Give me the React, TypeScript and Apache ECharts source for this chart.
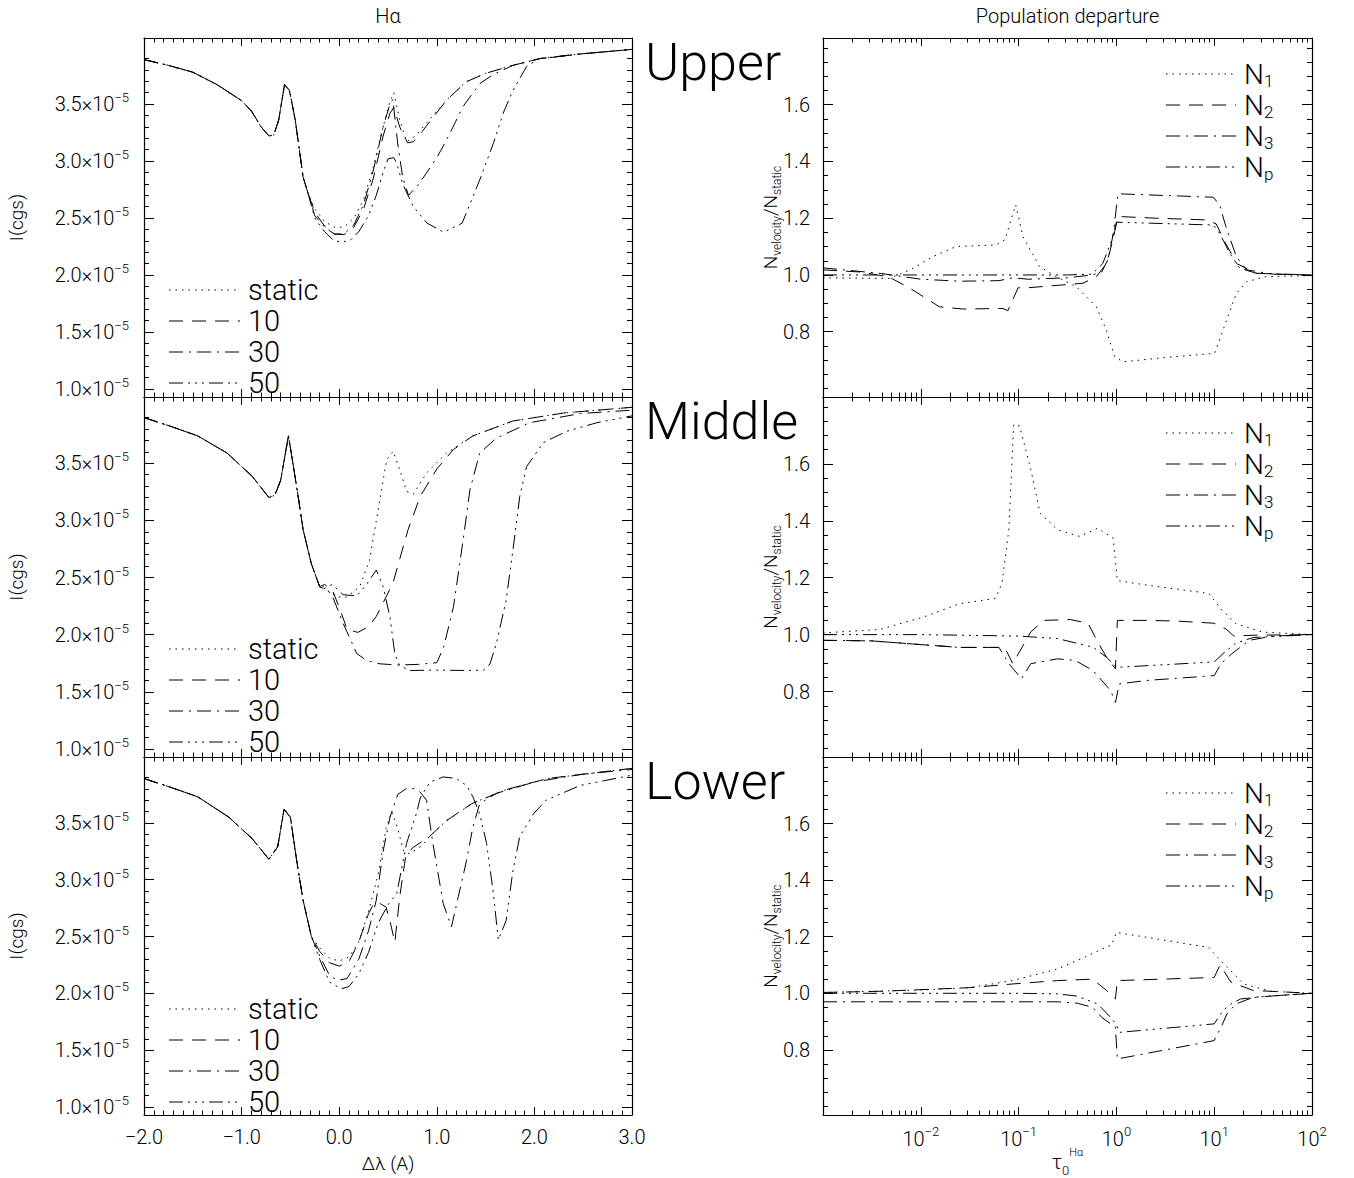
import React, { useEffect, useRef } from "react";
import * as echarts from "echarts";

// ---------------- DATA ----------------
// Left column: [Δλ (Å), I in units of 1e-5 cgs]
const upperCommon = [[-2.0,3.89],[-1.75,3.84],[-1.5,3.78],[-1.25,3.67],[-1.0,3.53],[-0.9,3.44],[-0.8,3.30],[-0.72,3.22],[-0.67,3.23],[-0.62,3.36],[-0.56,3.67],[-0.51,3.62],[-0.45,3.36],[-0.37,2.86],[-0.32,2.72]];
const upperStatic = [[-0.25,2.58],[-0.15,2.47],[-0.05,2.42],[0.05,2.42],[0.15,2.50],[0.25,2.66],[0.35,2.95],[0.45,3.30],[0.52,3.52],[0.56,3.60],[0.62,3.36],[0.69,3.17],[0.78,3.22],[0.9,3.34],[1.1,3.535],[1.3,3.695],[1.5,3.77],[1.78,3.84],[2.06,3.90],[2.47,3.94],[3.0,3.98]];
const upper10 = [[-0.25,2.55],[-0.15,2.43],[-0.05,2.36],[0.05,2.355],[0.15,2.42],[0.25,2.58],[0.35,2.85],[0.45,3.22],[0.52,3.42],[0.56,3.47],[0.62,3.30],[0.7,3.16],[0.76,3.17],[0.85,3.26],[1.1,3.535],[1.3,3.695],[1.5,3.77],[1.78,3.84],[2.06,3.90],[2.47,3.94],[3.0,3.98]];
const upper30 = [[-0.25,2.52],[-0.15,2.42],[-0.05,2.36],[0.05,2.36],[0.15,2.44],[0.25,2.62],[0.35,2.92],[0.45,3.30],[0.52,3.50],[0.55,3.54],[0.6,3.15],[0.65,2.86],[0.71,2.70],[0.8,2.78],[0.89,2.89],[1.0,3.03],[1.1,3.185],[1.27,3.48],[1.44,3.68],[1.58,3.76],[1.78,3.84],[2.06,3.90],[2.47,3.94],[3.0,3.98]];
const upper50 = [[-0.25,2.50],[-0.15,2.38],[-0.05,2.30],[0.04,2.29],[0.12,2.31],[0.2,2.38],[0.3,2.52],[0.38,2.70],[0.45,2.90],[0.5,3.02],[0.56,3.03],[0.59,2.98],[0.65,2.80],[0.76,2.60],[0.9,2.456],[1.07,2.375],[1.26,2.456],[1.44,2.835],[1.58,3.157],[1.68,3.42],[1.78,3.62],[1.92,3.83],[2.04,3.895],[2.47,3.94],[3.0,3.98]];

const middleCommon = [[-2.0,3.90],[-1.75,3.83],[-1.45,3.74],[-1.15,3.59],[-0.89,3.385],[-0.72,3.20],[-0.66,3.22],[-0.6,3.35],[-0.52,3.74],[-0.48,3.53],[-0.415,3.18],[-0.37,2.92],[-0.285,2.62],[-0.2,2.42]];
const middleStatic = [[-0.16,2.42],[-0.08,2.36],[0.0,2.33],[0.076,2.33],[0.21,2.42],[0.31,2.65],[0.417,3.18],[0.486,3.53],[0.553,3.605],[0.62,3.445],[0.69,3.255],[0.76,3.23],[0.895,3.415],[1.10,3.59],[1.37,3.74],[1.78,3.87],[2.30,3.94],[3.0,3.99]];
const middle10 = [[-0.15,2.44],[-0.07,2.39],[0.0,2.24],[0.08,2.05],[0.19,2.02],[0.3,2.07],[0.38,2.16],[0.55,2.45],[0.706,2.92],[0.83,3.21],[1.0,3.45],[1.17,3.62],[1.37,3.74],[1.78,3.87],[2.30,3.94],[3.0,3.99]];
const middle30 = [[-0.15,2.40],[-0.08,2.36],[0.04,2.10],[0.18,1.835],[0.28,1.775],[0.42,1.745],[0.6,1.735],[0.8,1.74],[1.0,1.755],[1.07,1.89],[1.17,2.24],[1.27,2.83],[1.34,3.27],[1.44,3.59],[1.61,3.72],[1.95,3.855],[2.47,3.935],[3.0,3.965]];
const middle50 = [[-0.16,2.40],[-0.07,2.44],[0.04,2.35],[0.18,2.34],[0.28,2.44],[0.38,2.566],[0.45,2.42],[0.52,2.155],[0.57,1.83],[0.62,1.73],[0.72,1.687],[1.0,1.69],[1.3,1.687],[1.48,1.69],[1.545,1.745],[1.61,1.92],[1.71,2.30],[1.78,2.74],[1.85,3.21],[1.92,3.47],[2.09,3.68],[2.33,3.78],[2.64,3.855],[3.0,3.915]];

const lowerCommon = [[-2.0,3.89],[-1.75,3.82],[-1.45,3.73],[-1.13,3.55],[-0.89,3.36],[-0.72,3.18],[-0.63,3.29],[-0.565,3.62],[-0.5,3.55],[-0.436,3.17],[-0.37,2.82],[-0.285,2.50]];
const lowerStatic = [[-0.2,2.40],[-0.1,2.31],[0.0,2.285],[0.1,2.32],[0.2,2.45],[0.3,2.72],[0.4,3.05],[0.48,3.45],[0.54,3.60],[0.6,3.45],[0.66,3.25],[0.72,3.23],[0.85,3.30],[0.92,3.377],[1.10,3.52],[1.36,3.67],[1.70,3.79],[2.13,3.89],[3.0,3.98]];
const lower10 = [[-0.2,2.37],[-0.1,2.27],[0.0,2.24],[0.1,2.28],[0.2,2.45],[0.3,2.70],[0.36,2.80],[0.42,2.79],[0.48,2.76],[0.53,2.60],[0.57,2.45],[0.62,2.85],[0.68,3.20],[0.75,3.28],[0.92,3.377],[1.10,3.52],[1.36,3.67],[1.70,3.79],[2.13,3.89],[3.0,3.98]];
const lower30 = [[-0.2,2.33],[-0.1,2.16],[-0.02,2.115],[0.08,2.13],[0.2,2.30],[0.3,2.55],[0.38,2.82],[0.45,3.25],[0.52,3.55],[0.6,3.75],[0.7,3.81],[0.78,3.80],[0.83,3.77],[0.895,3.70],[0.96,3.32],[1.066,2.79],[1.15,2.585],[1.22,2.85],[1.305,3.17],[1.37,3.465],[1.44,3.67],[1.61,3.76],[2.0,3.86],[2.5,3.93],[3.0,3.97]];
const lower50 = [[-0.2,2.30],[-0.1,2.10],[0.02,2.04],[0.1,2.06],[0.2,2.17],[0.3,2.36],[0.4,2.62],[0.5,2.78],[0.59,2.88],[0.69,3.32],[0.79,3.58],[0.83,3.72],[0.93,3.86],[1.066,3.905],[1.2,3.89],[1.305,3.83],[1.37,3.73],[1.44,3.58],[1.51,3.32],[1.58,2.88],[1.63,2.47],[1.71,2.64],[1.78,3.08],[1.85,3.38],[1.99,3.58],[2.12,3.70],[2.47,3.83],[3.0,3.92]];

// Right column: [log10 τ0, N_velocity / N_static]
const upperN1 = [[-3,0.99],[-2.32,0.988],[-2.11,1.018],[-1.875,1.065],[-1.64,1.10],[-1.23,1.106],[-1.14,1.124],[-1.03,1.247],[-0.955,1.135],[-0.785,1.03],[-0.614,0.994],[-0.41,0.959],[-0.205,0.888],[-0.103,0.806],[-0.018,0.712],[0.067,0.694],[0.41,0.706],[1.005,0.724],[1.09,0.806],[1.226,0.935],[1.33,0.976],[1.53,0.994],[2,0.998]];
const upperN2 = [[-3,1.018],[-2.6,1.01],[-2.32,0.992],[-2.11,0.953],[-1.81,0.888],[-1.57,0.88],[-1.16,0.882],[-1.11,0.874],[-1.005,0.955],[-0.9,0.955],[-0.34,0.971],[-0.205,0.994],[-0.10,1.041],[-0.035,1.124],[0.016,1.206],[0.41,1.20],[0.92,1.194],[1.02,1.18],[1.12,1.11],[1.23,1.04],[1.43,1.006],[2,0.998]];
const upperN3 = [[-3,1.025],[-2.4,1.005],[-2.0,0.985],[-1.6,0.978],[-1.2,0.98],[-1.06,0.99],[-0.9,0.985],[-0.5,0.99],[-0.25,1.0],[-0.15,1.01],[-0.08,1.06],[-0.03,1.15],[0.016,1.286],[0.99,1.274],[1.055,1.247],[1.12,1.17],[1.226,1.065],[1.33,1.018],[1.6,1.003],[2,1.0]];
const upperNp = [[-3,1.0],[-2,1.0],[-1,1.0],[-0.5,1.0],[-0.25,1.003],[-0.14,1.04],[-0.05,1.12],[0.0,1.186],[0.99,1.176],[1.055,1.147],[1.16,1.076],[1.26,1.024],[1.43,1.006],[2,1.0]];

const middleN1 = [[-3,1.006],[-2.42,1.018],[-1.97,1.062],[-1.60,1.109],[-1.24,1.127],[-1.17,1.18],[-1.10,1.368],[-1.05,1.739],[-0.99,1.733],[-0.875,1.58],[-0.78,1.427],[-0.60,1.368],[-0.375,1.345],[-0.19,1.374],[-0.033,1.339],[0.01,1.19],[0.31,1.174],[0.945,1.145],[1.08,1.086],[1.22,1.039],[1.49,1.009],[2,1.0]];
const middleN2 = [[-3,0.98],[-2.5,0.978],[-2.0,0.965],[-1.6,0.955],[-1.2,0.955],[-1.12,0.94],[-1.06,0.898],[-0.99,0.94],[-0.875,1.01],[-0.74,1.05],[-0.47,1.053],[-0.29,1.04],[-0.2,0.98],[-0.1,0.92],[-0.01,0.88],[0.01,1.05],[0.31,1.05],[0.6,1.048],[1.0,1.04],[1.12,1.02],[1.2,0.995],[1.4,0.998],[2,1.0]];
const middleN3 = [[-3,0.98],[-2.5,0.978],[-2.0,0.965],[-1.6,0.955],[-1.2,0.955],[-1.1,0.898],[-0.97,0.845],[-0.875,0.898],[-0.6,0.915],[-0.42,0.909],[-0.24,0.874],[-0.06,0.804],[-0.01,0.762],[0.03,0.827],[0.31,0.839],[1.0,0.856],[1.07,0.898],[1.18,0.933],[1.36,0.98],[1.6,0.995],[2,1.0]];
const middleNp = [[-3,1.0],[-2,1.0],[-1,0.995],[-0.6,0.986],[-0.24,0.956],[-0.1,0.92],[0.0,0.886],[0.05,0.886],[1.0,0.904],[1.09,0.933],[1.22,0.97],[1.4,0.99],[2,1.0]];

const lowerN1 = [[-3,1.003],[-1.97,1.012],[-1.5,1.02],[-1.06,1.045],[-0.6,1.086],[-0.33,1.127],[-0.15,1.156],[-0.05,1.17],[0.0,1.215],[0.31,1.198],[0.945,1.162],[1.035,1.127],[1.17,1.08],[1.3,1.033],[1.58,1.007],[2,1.0]];
const lowerN2 = [[-3,1.003],[-2.42,1.007],[-1.5,1.02],[-1.06,1.033],[-0.6,1.045],[-0.24,1.05],[-0.19,1.035],[-0.1,1.01],[-0.01,0.98],[0.01,1.045],[1.0,1.056],[1.06,1.10],[1.17,1.04],[1.22,1.033],[1.4,1.01],[2,1.0]];
const lowerN3 = [[-3,0.97],[-2,0.97],[-1,0.97],[-0.6,0.97],[-0.4,0.965],[-0.24,0.95],[-0.15,0.915],[-0.01,0.88],[0.01,0.768],[1.0,0.833],[1.07,0.88],[1.13,0.927],[1.22,0.962],[1.4,0.986],[2,1.0]];
const lowerNp = [[-3,1.0],[-2,1.0],[-1,1.0],[-0.6,0.998],[-0.4,0.99],[-0.19,0.962],[-0.06,0.915],[0.0,0.89],[0.03,0.862],[1.0,0.892],[1.09,0.939],[1.17,0.962],[1.27,0.98],[1.55,0.99],[2,1.0]];

const rowNames = ["Upper", "Middle", "Lower"];
const velocityNames = ["static", "10", "30", "50"];
const populationNames = ["1", "2", "3", "p"];
const leftXTicks = [-2, -1, 0, 1, 2, 3];
const leftYTicks = [1.0, 1.5, 2.0, 2.5, 3.0, 3.5];
const rightXTicks = [-3, -2, -1, 0, 1, 2];
const rightXLabels = [-2, -1, 0, 1, 2];
const rightYTicks = [0.8, 1.0, 1.2, 1.4, 1.6];

// ---------------- STYLE ----------------
const FONT = "Roboto";
const FW = 300;
const DOT = [1.5, 5];
const DASH = [14, 9];
const DASHDOT = [14, 6, 2, 6];
const DASH3DOT = [14, 5, 2, 5, 2, 5, 2, 5];
const dashes = [DOT, DASH, DASHDOT, DASH3DOT];

const rowsTop = [38, 397, 757];
const rowsH = [359, 360, 358];
const LEFT_X = 144, LEFT_W = 488;
const RIGHT_X = 823, RIGHT_W = 489;

const minus = (s: string) => s.replace("-", "\u2212");

function buildOption() {
  const grid: any[] = [];
  const xAxis: any[] = [];
  const yAxis: any[] = [];
  const series: any[] = [];
  const graphic: any[] = [];

  const leftMinorX: number[] = [];
  for (let i = -20; i <= 30; i++) if (i % 10 !== 0) leftMinorX.push(i / 10);
  const leftMinorY: number[] = [];
  for (let i = 10; i <= 40; i++) if (i % 5 !== 0) leftMinorY.push(i / 10);
  const rightMinorY: number[] = [];
  for (let i = 12; i <= 36; i++) {
    const v = i / 20;
    if (!rightYTicks.some((t) => Math.abs(t - v) < 1e-6)) rightMinorY.push(v);
  }
  const rightMinorX: number[] = [];
  for (let d = -3; d < 2; d++) for (let k = 2; k <= 9; k++) rightMinorX.push(d + Math.log10(k));

  const lineCol = { color: "#000", width: 1.2 };
  const tickCol = { color: "#000", width: 1 };

  function addAxes(arr: any[], gridIndex: number, base: any, sides: string[], majors: number[], minors: number[], majorLen: number, minorLen: number, label: any) {
    const first = arr.length;
    sides.forEach((pos, si) => {
      arr.push({
        ...base, gridIndex, position: pos,
        axisLine: { show: true, onZero: false, lineStyle: lineCol },
        axisTick: { show: true, inside: true, length: majorLen, customValues: majors, lineStyle: tickCol },
        axisLabel: si === 0 && label ? label : { show: false },
        splitLine: { show: false },
      });
      arr.push({
        ...base, gridIndex, position: pos,
        axisLine: { show: false, onZero: false },
        axisTick: { show: true, inside: true, length: minorLen, customValues: minors, lineStyle: tickCol },
        axisLabel: { show: false },
        splitLine: { show: false },
      });
    });
    return first;
  }

  const leftData = [
    [upperCommon, [upperStatic, upper10, upper30, upper50]],
    [middleCommon, [middleStatic, middle10, middle30, middle50]],
    [lowerCommon, [lowerStatic, lower10, lower30, lower50]],
  ] as any[];
  const rightData = [
    [upperN1, upperN2, upperN3, upperNp],
    [middleN1, middleN2, middleN3, middleNp],
    [lowerN1, lowerN2, lowerN3, lowerNp],
  ];

  for (let r = 0; r < 3; r++) {
    const top = rowsTop[r], h = rowsH[r];
    const dy = top - rowsTop[0];
    // ----- left grid -----
    const gL = grid.length;
    grid.push({ left: LEFT_X, top, width: LEFT_W, height: h, containLabel: false });
    const xL = addAxes(xAxis, gL, { type: "value", min: -2, max: 3 }, ["bottom", "top"], leftXTicks, leftMinorX, 8, 4.5,
      r === 2 ? {
        show: true, customValues: leftXTicks, margin: 12, color: "#000", fontFamily: FONT, fontWeight: FW, fontSize: 20,
        formatter: (v: number) => minus(v.toFixed(1)),
      } : null);
    const yL = addAxes(yAxis, gL, { type: "value", min: 0.93, max: 4.08 }, ["left", "right"], leftYTicks, leftMinorY, 10, 5, {
      show: true, customValues: leftYTicks, margin: 15, color: "#000",
      formatter: (v: number) => `{n|${v.toFixed(1)}\u00d710}{s|\u22125}`,
      rich: {
        n: { fontFamily: FONT, fontWeight: FW, fontSize: 20, lineHeight: 26, color: "#000" },
        s: { fontFamily: FONT, fontWeight: FW, fontSize: 13, lineHeight: 13, verticalAlign: "top", color: "#000" },
      },
    });
    const [common, tails] = leftData[r];
    tails.forEach((tail: number[][], i: number) => {
      series.push({
        type: "line", name: velocityNames[i], xAxisIndex: xL, yAxisIndex: yL,
        data: [...common, ...tail], showSymbol: false, symbol: "none", silent: true,
        lineStyle: { color: "#000", width: 1, type: dashes[i] },
      });
    });
    // legend (left)
    velocityNames.forEach((nm, i) => {
      const y = 290 + dy + i * 31;
      graphic.push({ type: "line", shape: { x1: 169, y1: y, x2: 240, y2: y }, style: { stroke: "#000", lineWidth: 1, lineDash: dashes[i] } });
      graphic.push({ type: "text", x: 248, y, style: { text: nm, fontFamily: FONT, fontWeight: FW, fontSize: 29, lineHeight: 29, fill: "#000", align: "left", verticalAlign: "middle", textAlign: "left", textVerticalAlign: "middle" } });
    });

    // ----- right grid -----
    const gR = grid.length;
    grid.push({ left: RIGHT_X, top, width: RIGHT_W, height: h, containLabel: false });
    const xR = addAxes(xAxis, gR, { type: "value", min: -3, max: 2 }, ["bottom", "top"], rightXTicks, rightMinorX, 8, 4.5,
      r === 2 ? {
        show: true, customValues: rightXLabels, margin: 10, color: "#000",
        formatter: (v: number) => { const e = Math.round(v); return `{n|10}{s|${e < 0 ? "\u2212" + -e : e}}`; },
        rich: {
          n: { fontFamily: FONT, fontWeight: FW, fontSize: 20, lineHeight: 28, color: "#000" },
          s: { fontFamily: FONT, fontWeight: FW, fontSize: 13, lineHeight: 13, verticalAlign: "top", color: "#000" },
        },
      } : null);
    const yR = addAxes(yAxis, gR, { type: "value", min: 0.57, max: 1.835 }, ["left", "right"], rightYTicks, rightMinorY, 10, 5, {
      show: true, customValues: rightYTicks, margin: 13, color: "#000", fontFamily: FONT, fontWeight: FW, fontSize: 20,
      formatter: (v: number) => v.toFixed(1),
    });
    rightData[r].forEach((d, i) => {
      series.push({
        type: "line", name: "N" + populationNames[i], xAxisIndex: xR, yAxisIndex: yR,
        data: d, showSymbol: false, symbol: "none", silent: true,
        lineStyle: { color: "#000", width: 1, type: dashes[i] },
      });
    });
    populationNames.forEach((nm, i) => {
      const y = 74 + dy + i * 31;
      graphic.push({ type: "line", shape: { x1: 1166, y1: y, x2: 1236, y2: y }, style: { stroke: "#000", lineWidth: 1, lineDash: dashes[i] } });
      graphic.push({ type: "text", x: 1244, y, style: {
        text: `{n|N}{s|${nm}}`, fill: "#000", align: "left", verticalAlign: "middle", textAlign: "left", textVerticalAlign: "middle",
        rich: {
          n: { fontFamily: FONT, fontWeight: FW, fontSize: 28, lineHeight: 30, fill: "#000" },
          s: { fontFamily: FONT, fontWeight: FW, fontSize: 17, lineHeight: 9, verticalAlign: "bottom", fill: "#000" },
        },
      } });
    });

    // row label
    graphic.push({ type: "text", x: 645, y: top + 24, style: { text: rowNames[r], fontFamily: FONT, fontWeight: FW, fontSize: 52, fill: "#000", align: "left", verticalAlign: "middle", textAlign: "left", textVerticalAlign: "middle" } });
    // y names
    const cy = top + h / 2;
    graphic.push({ type: "text", x: 16, y: cy, rotation: Math.PI / 2, style: { text: "I(cgs)", fontFamily: FONT, fontWeight: FW, fontSize: 19, fill: "#000", align: "center", verticalAlign: "middle", textAlign: "center", textVerticalAlign: "middle" } });
    graphic.push({ type: "text", x: 770, y: cy, rotation: Math.PI / 2, style: {
      text: "{n|N}{s|velocity}{n|/N}{s|static}", fill: "#000", align: "center", verticalAlign: "middle", textAlign: "center", textVerticalAlign: "middle",
      rich: {
        n: { fontFamily: FONT, fontWeight: FW, fontSize: 19, lineHeight: 26, fill: "#000" },
        s: { fontFamily: FONT, fontWeight: FW, fontSize: 12, lineHeight: 12, verticalAlign: "bottom", fill: "#000" },
      },
    } });
  }

  // titles
  graphic.push({ type: "text", x: LEFT_X + LEFT_W / 2, y: 16, style: { text: "H\u03b1", fontFamily: FONT, fontWeight: FW, fontSize: 20, fill: "#000", align: "center", verticalAlign: "middle", textAlign: "center", textVerticalAlign: "middle" } });
  graphic.push({ type: "text", x: RIGHT_X + RIGHT_W / 2, y: 16, style: { text: "Population departure", fontFamily: FONT, fontWeight: FW, fontSize: 20, fill: "#000", align: "center", verticalAlign: "middle", textAlign: "center", textVerticalAlign: "middle" } });
  graphic.push({ type: "text", x: LEFT_X + LEFT_W / 2, y: 1163, style: { text: "\u0394\u03bb (A)", fontFamily: FONT, fontWeight: FW, fontSize: 19, fill: "#000", align: "center", verticalAlign: "middle", textAlign: "center", textVerticalAlign: "middle" } });
  graphic.push({ type: "text", x: RIGHT_X + RIGHT_W / 2, y: 1162, style: {
    text: "{t|\u03c4}{b|0}{p|H\u03b1}", fill: "#000", align: "center", verticalAlign: "middle", textAlign: "center", textVerticalAlign: "middle",
    rich: {
      t: { fontFamily: FONT, fontWeight: FW, fontSize: 20, lineHeight: 30, fill: "#000" },
      b: { fontFamily: FONT, fontWeight: FW, fontSize: 13, lineHeight: 13, verticalAlign: "bottom", fill: "#000" },
      p: { fontFamily: FONT, fontWeight: FW, fontSize: 11, lineHeight: 11, verticalAlign: "top", fill: "#000" },
    },
  } });

  return {
    animation: false,
    backgroundColor: "#fff",
    grid, xAxis, yAxis, series, graphic,
  };
}

export default function App() {
  const ref = useRef<HTMLDivElement>(null);
  useEffect(() => {
    if (!ref.current) return;
    const chart = echarts.init(ref.current, undefined, { renderer: "svg" });
    chart.setOption(buildOption() as any);
    return () => chart.dispose();
  }, []);
  return <div ref={ref} style={{ position: "absolute", left: 0, top: 0, width: 1354, height: 1178, background: "#fff" }} />;
}
